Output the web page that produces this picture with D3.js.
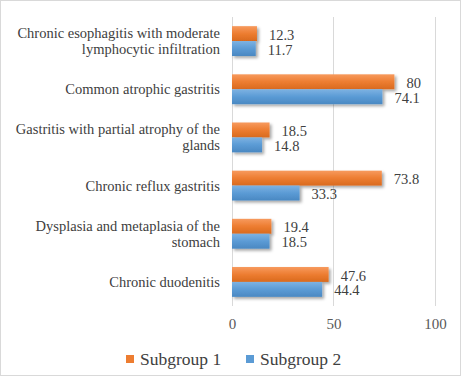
<!DOCTYPE html>
<html><head><meta charset="utf-8">
<script src="https://cdn.jsdelivr.net/npm/d3@7"></script>
<style>body{margin:0;background:#fff}svg{display:block}svg text{font-family:"Liberation Serif","Times New Roman",serif}</style>
</head><body>
<svg id="c" width="461" height="376"></svg>
<script>
const categories = [
  ["Chronic esophagitis with moderate","lymphocytic infiltration"],
  ["Common atrophic gastritis"],
  ["Gastritis with partial atrophy of the","glands"],
  ["Chronic reflux gastritis"],
  ["Dysplasia and metaplasia of the","stomach"],
  ["Chronic duodenitis"]
];
const subgroup1 = [12.3, 80, 18.5, 73.8, 19.4, 47.6];
const subgroup2 = [11.7, 74.1, 14.8, 33.3, 18.5, 44.4];
const seriesNames = ["Subgroup 1", "Subgroup 2"];
const colors = ["#ED7D31", "#5B9BD5"];
const tickValues = [0, 50, 100];

const svg = d3.select("#c");
svg.append("rect").attr("x",0.5).attr("y",0.5).attr("width",460).attr("height",375)
  .attr("fill","#fff").attr("stroke","#d9d9d9");

const defs = svg.append("defs");
const grads = [["#F79A5E","#ED7D31","#D96A1E"],["#7DB2E2","#5B9BD5","#4A88C2"]];
grads.forEach((g,i)=>{
  const lg = defs.append("linearGradient").attr("id","g"+i).attr("x1",0).attr("y1",0).attr("x2",0).attr("y2",1);
  lg.append("stop").attr("offset","0%").attr("stop-color",g[0]);
  lg.append("stop").attr("offset","50%").attr("stop-color",g[1]);
  lg.append("stop").attr("offset","100%").attr("stop-color",g[2]);
});
const f = defs.append("filter").attr("id","sh").attr("x","-10%").attr("y","-30%").attr("width","130%").attr("height","180%");
f.append("feDropShadow").attr("dx",2).attr("dy",2).attr("stdDeviation",1.5).attr("flood-color","#000").attr("flood-opacity",0.35);

const x = d3.scaleLinear().domain([0,100]).range([232,435]);
const y = d3.scaleBand().domain(d3.range(categories.length)).range([17,306]).paddingInner(0.38).paddingOuter(0.19);
const y1 = d3.scaleBand().domain([0,1]).range([0,y.bandwidth()]);

svg.append("g").selectAll("line").data(tickValues).join("line")
  .attr("x1",d=>x(d)).attr("x2",d=>x(d)).attr("y1",17).attr("y2",306)
  .attr("stroke","#d9d9d9").attr("stroke-width",1).attr("shape-rendering","crispEdges");

const xAxis = d3.axisBottom(x).tickValues(tickValues).tickSize(0).tickPadding(0);
const ax = svg.append("g").attr("transform","translate(0,318)").call(xAxis);
ax.select(".domain").remove();
ax.attr("font-family",null).attr("font-size",null);
ax.selectAll("text").style("font-size","15px").attr("fill","#595959").attr("dy","0.71em");

const data = categories.map((c,i)=>({i, vals:[subgroup1[i], subgroup2[i]]}));
const groups = svg.append("g").selectAll("g").data(data).join("g")
  .attr("transform",d=>`translate(0,${y(d.i)})`);
groups.selectAll("rect").data(d=>d.vals.map((v,k)=>({v,k}))).join("rect")
  .attr("x",x(0)).attr("y",d=>y1(d.k)).attr("height",y1.bandwidth()).attr("width",d=>x(d.v)-x(0))
  .attr("fill",d=>`url(#g${d.k})`).attr("filter","url(#sh)");
groups.selectAll("text").data(d=>d.vals.map((v,k)=>({v,k}))).join("text")
  .attr("x",d=>x(d.v)+12).attr("y",d=>y1(d.k)+y1.bandwidth()/2+1).attr("dy","0.35em")
  .style("font-size","14.5px").attr("fill","#404040").text(d=>d.v);

const cl = svg.append("g").selectAll("text").data(categories).join("text")
  .attr("text-anchor","end").style("font-size","14.5px").attr("fill","#404040")
  .attr("transform",(d,i)=>`translate(220,${y(i)+y.bandwidth()/2})`);
cl.selectAll("tspan").data(d=>d).join("tspan")
  .attr("x",0).attr("y",(t,j,n)=>(j-(n.length-1)/2)*16).attr("dy","0.35em").text(t=>t);

const legX = [126, 246];
const lg = svg.append("g").selectAll("g").data(seriesNames).join("g")
  .attr("transform",(d,i)=>`translate(${legX[i]},355)`);
lg.append("rect").attr("width",8).attr("height",8).attr("fill",(d,i)=>colors[i]);
lg.append("text").attr("x",14).attr("y",4).attr("dy","0.35em")
  .style("font-size","17.5px").attr("fill","#404040").text(d=>d);
</script>
</body></html>
